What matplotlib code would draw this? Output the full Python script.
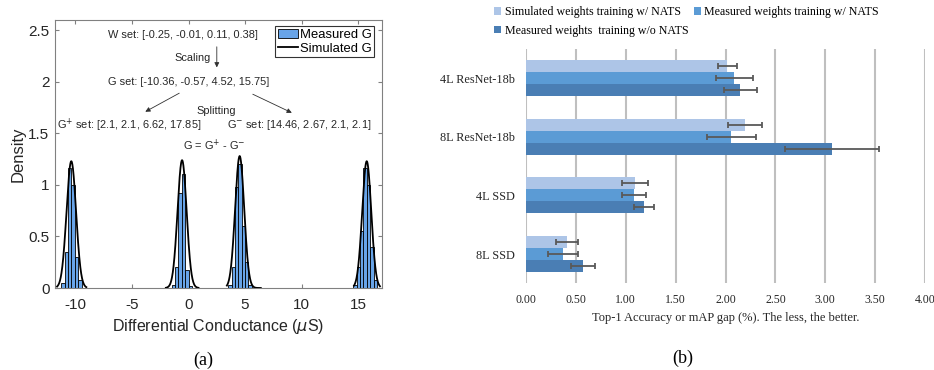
"""Two panel figure: conductance histograms (a) and accuracy gap bars (b)."""
import numpy as np
import matplotlib
matplotlib.use('Agg')
from matplotlib import pyplot as plt
from matplotlib.patches import Patch
from matplotlib.lines import Line2D

plt.rcParams['axes.unicode_minus'] = False

# ---- panel (a) data -------------------------------------------------------
peak_mu = [-10.36, -0.57, 4.52, 15.75]
peak_height = [1.23, 1.24, 1.28, 1.23]
peak_sigma = [0.42, 0.40, 0.40, 0.40]
curve_lo = [-11.62, -2.00, 3.39, 14.62]
curve_hi = [-9.03, 0.88, 6.39, 16.92]

bin_width = 0.30
bins_p1 = [-11.10, -10.80, -10.50, -10.20, -9.90, -9.60]
dens_p1 = [0.05, 0.35, 1.16, 1.00, 0.30, 0.08]
bins_p2 = [-1.35, -1.05, -0.75, -0.45, -0.15, 0.15]
dens_p2 = [0.03, 0.20, 0.92, 1.11, 0.17, 0.02]
bins_p3 = [3.65, 3.95, 4.25, 4.55, 4.85, 5.15, 5.45]
dens_p3 = [0.03, 0.20, 0.98, 1.20, 0.60, 0.25, 0.03]
bins_p4 = [14.70, 15.00, 15.30, 15.60, 15.90, 16.20, 16.50]
dens_p4 = [0.03, 0.20, 0.55, 1.16, 1.00, 0.40, 0.08]

# ---- panel (b) data -------------------------------------------------------
models = ['4L ResNet-18b', '8L ResNet-18b', '4L SSD', '8L SSD']
series_names = ['Simulated weights training w/ NATS',
                'Measured weights training w/ NATS',
                'Measured weights  training w/o NATS']
sim_nats = [2.02, 2.20, 1.09, 0.41]
sim_nats_err = [0.10, 0.17, 0.13, 0.11]
meas_nats = [2.09, 2.06, 1.08, 0.37]
meas_nats_err = [0.19, 0.25, 0.12, 0.15]
meas_no_nats = [2.15, 3.07, 1.18, 0.57]
meas_no_nats_err = [0.165, 0.47, 0.10, 0.12]

W, H = 934, 370
fig = plt.figure(figsize=(W / 100, H / 100), dpi=100)

# ---------------------------------------------------------------- panel (a)
sans = 'Liberation Sans'
serif = 'Liberation Serif'
ax1 = fig.add_axes([55 / W, 1 - 288 / H, (382 - 55) / W, (288 - 20) / H])
hist_color = '#68a4e8'
for bins, dens in ((bins_p1, dens_p1), (bins_p2, dens_p2),
                   (bins_p3, dens_p3), (bins_p4, dens_p4)):
    ax1.bar(bins, dens, width=bin_width, color=hist_color,
            edgecolor='k', linewidth=0.6, zorder=2)
for mu, hgt, sig, lo, hi in zip(peak_mu, peak_height, peak_sigma,
                                curve_lo, curve_hi):
    xs = np.linspace(lo, hi, 200)
    ax1.plot(xs, hgt * np.exp(-0.5 * ((xs - mu) / sig) ** 2),
             color='k', lw=1.3, zorder=3)
ax1.set_xlim(-11.8, 17.1)
ax1.set_ylim(0, 2.6)
ax1.set_xticks([-10, -5, 0, 5, 10, 15])
ax1.set_yticks([0, 0.5, 1, 1.5, 2, 2.5])
ax1.set_yticklabels(['0', '0.5', '1', '1.5', '2', '2.5'])
ax1.tick_params(direction='in', top=True, right=True, length=3,
                color='#808080', labelcolor='#262626', labelsize=11)
ax1.tick_params(axis='x', pad=7)
ax1.tick_params(axis='y', pad=4)
for lab in ax1.get_xticklabels() + ax1.get_yticklabels():
    lab.set_family(sans)
for sp in ax1.spines.values():
    sp.set_color('#808080')
    sp.set_linewidth(0.8)
ax1.set_xlabel(r'Differential Conductance ($\mu$S)', family=sans,
               fontsize=11.5, color='#262626', labelpad=4)
ax1.set_ylabel('Density', family=sans, fontsize=12, color='#262626',
               labelpad=2)

ann = dict(family=sans, fontsize=7.9, ha='center', va='center',
           color='#262626')
ax1.text(-0.47, 2.45, 'W set: [-0.25, -0.01, 0.11, 0.38]', **ann)
ax1.text(0.37, 2.23, 'Scaling', **ann)
ax1.text(-0.03, 2.00, 'G set: [-10.36, -0.57, 4.52, 15.75]', **ann)
ax1.text(2.43, 1.72, 'Splitting', **ann)
ax1.text(-5.23, 1.58, r'G$^{+}$ set: [2.1, 2.1, 6.62, 17.85]', **ann)
ax1.text(9.80, 1.58, r'G$^{-}$ set: [14.46, 2.67, 2.1, 2.1]', **ann)
ax1.text(2.24, 1.38, r'G = G$^{+}$ - G$^{-}$', **ann)
arrow = dict(arrowstyle='-|>', color='#303030', lw=0.6, mutation_scale=7,
             shrinkA=0, shrinkB=0)
ax1.annotate('', xy=(2.5, 2.14), xytext=(2.5, 2.34), arrowprops=arrow)
ax1.annotate('', xy=(-3.82, 1.71), xytext=(-0.82, 1.89), arrowprops=arrow)
ax1.annotate('', xy=(9.13, 1.70), xytext=(5.68, 1.88), arrowprops=arrow)

handles = [Patch(facecolor=hist_color, edgecolor='k', linewidth=0.6),
           Line2D([], [], color='k', lw=1.3)]
leg = ax1.legend(handles, ['Measured G', 'Simulated G'], loc='upper right',
                 bbox_to_anchor=(1 - 8 / 327, 1 - 6 / 268),
                 prop=dict(family=sans, size=9.4), fancybox=False,
                 borderpad=0.2, handlelength=1.5, handletextpad=0.15,
                 labelspacing=0.15, borderaxespad=0)
leg.get_frame().set_edgecolor('k')
leg.get_frame().set_linewidth(0.8)

fig.text(203 / W, 1 - 360 / H, '(a)', family=serif, fontsize=13,
         ha='center', va='center')

# ---------------------------------------------------------------- panel (b)
ax2 = fig.add_axes([526 / W, 1 - 283.3 / H, (925 - 526) / W,
                    (283.3 - 49) / H])
colors = ['#adc5e7', '#5b9bd5', '#4a7eb4']
values = [sim_nats, meas_nats, meas_no_nats]
errors = [sim_nats_err, meas_nats_err, meas_no_nats_err]
ypos = np.arange(len(models))
bh = 0.205
for i, (vals, errs, col) in enumerate(zip(values, errors, colors)):
    ax2.barh(ypos + (i - 1) * bh, vals, height=bh, color=col, zorder=2,
             xerr=errs, error_kw=dict(ecolor='#595959', elinewidth=1.3,
                                      capsize=2.5, capthick=1.3))
ax2.set_xlim(0, 4.0)
ax2.set_ylim(len(models) - 0.5, -0.5)
ax2.set_xticks(np.arange(0, 4.01, 0.5))
ax2.set_xticklabels([f'{v:.2f}' for v in np.arange(0, 4.01, 0.5)])
ax2.set_yticks(ypos)
ax2.set_yticklabels(models)
ax2.grid(axis='x', color='#bfbfbf', lw=1.5, zorder=0)
ax2.set_axisbelow(True)
for sp in ax2.spines.values():
    sp.set_visible(False)
ax2.tick_params(length=0, labelsize=8.5, labelcolor='#262626')
ax2.tick_params(axis='x', pad=8)
ax2.tick_params(axis='y', pad=8, labelsize=8.8)
for lab in ax2.get_xticklabels() + ax2.get_yticklabels():
    lab.set_family(serif)
ax2.set_xlabel('Top-1 Accuracy or mAP gap (%). The less, the better.',
               family=serif, fontsize=9, color='#262626', labelpad=4)

order = [0, 2, 1]
leg_handles = [Patch(facecolor=colors[k]) for k in order]
fig.legend(leg_handles, [series_names[k] for k in order], ncol=2,
           loc='upper left', bbox_to_anchor=(494 / W, 1 - 6 / H),
           prop=dict(family=serif, size=8.6), frameon=False,
           handlelength=0.6, handleheight=0.6, handletextpad=0.3,
           columnspacing=0.45, labelspacing=0.55, borderaxespad=0,
           borderpad=0)

fig.text(683 / W, 1 - 358 / H, '(b)', family=serif, fontsize=13,
         ha='center', va='center')

fig.savefig('out.png', dpi=100)
